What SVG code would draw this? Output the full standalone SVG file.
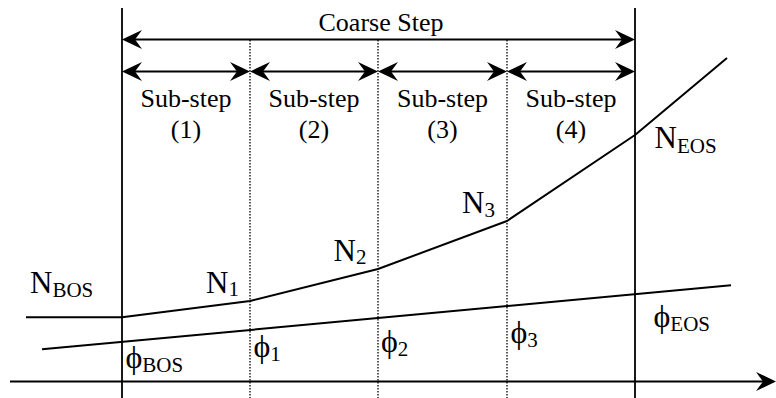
<svg xmlns="http://www.w3.org/2000/svg" width="776" height="398" viewBox="0 0 776 398">
<style>
text{font-family:"Liberation Serif","Times New Roman","DejaVu Serif",serif;fill:#000}
.lbl{font-size:26px;text-anchor:middle}
.n{font-size:31px}
.ph{font-size:32px}
.sub{font-size:21px}
.solid{stroke:#000;stroke-width:1.8;fill:none}
.dot{stroke:#000;stroke-width:1.3;stroke-dasharray:1.5 1.5;fill:none}
.curve{stroke:#000;stroke-width:2;fill:none;stroke-linejoin:round}
.arr{stroke:#000;stroke-width:2;fill:none;marker-start:url(#ah);marker-end:url(#ah)}
</style>
<defs>
<marker id="ah" markerUnits="userSpaceOnUse" viewBox="-20 -11 25 22" refX="0" refY="0" markerWidth="25" markerHeight="22" orient="auto-start-reverse">
<path d="M3,0 L-17,-9.5 L-10,0 L-17,9.5 Z" fill="#000"/>
</marker>
</defs>
<rect width="776" height="398" fill="#fff"/>
<g id="grid">
<line class="solid" x1="122" y1="8" x2="122" y2="398"/>
<line class="solid" x1="635" y1="8" x2="635" y2="398"/>
<line class="dot" x1="250" y1="40" x2="250" y2="398"/>
<line class="dot" x1="378" y1="40" x2="378" y2="398"/>
<line class="dot" x1="507" y1="40" x2="507" y2="398"/>
</g>
<g id="connectors">
<line class="arr" x1="125" y1="39.5" x2="632" y2="39.5"/>
<line class="arr" x1="125" y1="71.5" x2="247" y2="71.5"/>
<line class="arr" x1="253" y1="71.5" x2="375" y2="71.5"/>
<line class="arr" x1="381" y1="71.5" x2="504" y2="71.5"/>
<line class="arr" x1="510" y1="71.5" x2="632" y2="71.5"/>
<line class="solid" x1="10" y1="381.5" x2="773" y2="381.5" style="stroke-width:2;marker-end:url(#ah)"/>
</g>
<g id="curve-N">
<polyline class="curve" points="26,317.3 122,317.3 250,301 378,269 507,221 635,135 727,58"/>
</g>
<g id="curve-phi">
<line class="curve" x1="42" y1="349.3" x2="731" y2="285.3"/>
</g>
<g id="title"><text class="lbl" x="381" y="31">Coarse Step</text></g>
<g id="sub1"><text class="lbl" x="186" y="107">Sub-step</text><text class="lbl" x="186" y="138">(1)</text></g>
<g id="sub2"><text class="lbl" x="314" y="107">Sub-step</text><text class="lbl" x="314" y="138">(2)</text></g>
<g id="sub3"><text class="lbl" x="442.5" y="107">Sub-step</text><text class="lbl" x="442.5" y="138">(3)</text></g>
<g id="sub4"><text class="lbl" x="571" y="107">Sub-step</text><text class="lbl" x="571" y="138">(4)</text></g>
<g id="N-BOS"><text class="n" x="30" y="293">N<tspan class="sub" dy="4">BOS</tspan></text></g>
<g id="N-1"><text class="n" x="206" y="293">N<tspan class="sub" dy="3">1</tspan></text></g>
<g id="N-2"><text class="n" x="333.5" y="261">N<tspan class="sub" dy="3">2</tspan></text></g>
<g id="N-3"><text class="n" x="462" y="213">N<tspan class="sub" dy="4">3</tspan></text></g>
<g id="N-EOS"><text class="n" x="654.5" y="148">N<tspan class="sub" dy="5">EOS</tspan></text></g>
<g id="phi-BOS"><text class="ph" x="125.5" y="368">ϕ<tspan class="sub" dy="4">BOS</tspan></text></g>
<g id="phi-1"><text class="ph" x="253.5" y="357">ϕ<tspan class="sub" dy="4">1</tspan></text></g>
<g id="phi-2"><text class="ph" x="381" y="352">ϕ<tspan class="sub" dy="4">2</tspan></text></g>
<g id="phi-3"><text class="ph" x="510.5" y="343">ϕ<tspan class="sub" dy="4">3</tspan></text></g>
<g id="phi-EOS"><text class="ph" x="653.5" y="327">ϕ<tspan class="sub" dy="4">EOS</tspan></text></g>
</svg>
